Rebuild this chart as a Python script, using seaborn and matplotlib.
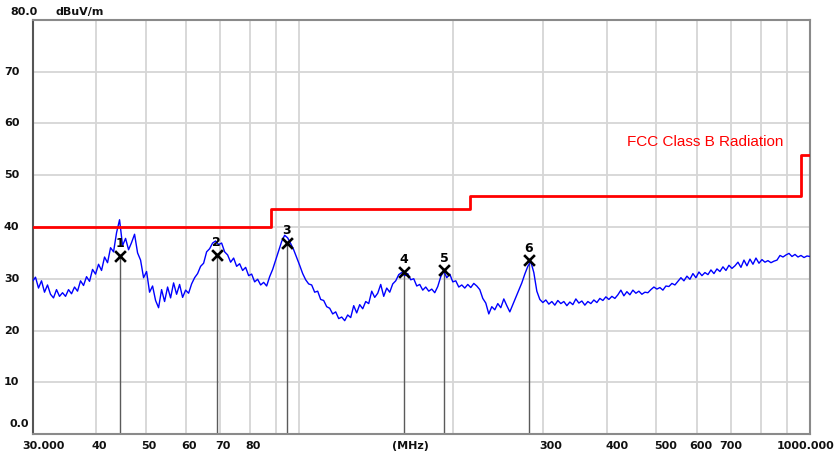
import numpy as np
import pandas as pd
import matplotlib
matplotlib.use("Agg")
import matplotlib.pyplot as plt
import seaborn as sns

# ---------------- data ----------------
sweep_start_mhz = 30.0
sweep_stop_mhz = 1000.0
# measured level (dBuV/m), equally spaced points on the log-frequency sweep
trace_levels = [
    29.5, 30.3, 28.2, 29.6, 27.4, 28.8, 27.0, 26.3, 27.9, 26.6, 27.3,
    26.6, 27.9, 27.1, 28.4, 27.6, 29.6, 28.7, 30.4, 29.5, 31.8,
    30.9, 32.8, 31.6, 34.2, 33.1, 36.0, 35.2, 38.9, 41.4, 36.4,
    37.8, 35.6, 37.0, 38.6, 35.0, 33.6, 30.2, 31.4, 27.4, 28.6,
    25.8, 24.4, 27.9, 25.6, 28.4, 26.3, 29.2, 27.0, 28.9, 26.4,
    27.8, 27.2, 29.0, 30.2, 31.0, 32.4, 33.0, 35.2, 35.8, 36.9,
    37.3, 36.6, 36.9, 35.2, 34.6, 33.2, 34.0, 32.4, 32.9, 31.6,
    32.2, 30.6, 30.9, 29.4, 29.9, 28.8, 29.3, 28.6, 30.4, 31.8,
    33.6, 35.4, 37.2, 38.4, 37.9, 36.8, 35.6, 34.1, 32.6, 31.0,
    29.8, 29.0, 28.8, 27.4, 27.6, 26.0, 25.8, 24.6, 24.3, 23.2,
    23.6, 22.3, 22.6, 21.9, 23.0, 22.5, 24.8, 23.4, 25.0, 24.2,
    25.6, 25.2, 27.6, 26.4, 27.2, 28.9, 26.6, 28.2, 27.4, 29.0,
    29.6, 30.8, 31.2, 30.6, 31.0, 29.8, 30.0, 28.6, 28.9, 27.8,
    28.4, 27.6, 28.0, 27.3, 28.5, 30.4, 31.5, 30.2, 30.9, 29.4,
    29.6, 28.4, 28.8, 28.2, 28.9, 28.3, 29.1, 28.6, 27.9, 26.2,
    25.3, 23.2, 24.6, 24.0, 25.2, 24.4, 26.1, 24.8, 23.6, 25.0,
    26.4, 27.8, 29.2, 30.9, 32.4, 33.3, 31.2, 27.6, 26.0, 25.4,
    25.9, 25.1, 25.6, 24.9, 25.8, 25.2, 25.6, 24.8, 25.5, 25.0,
    26.1, 25.3, 25.7, 24.9, 25.6, 25.2, 25.9, 25.4, 26.2, 25.8,
    26.5, 26.0, 26.6, 26.2, 26.9, 27.8, 26.7, 27.5, 26.9, 27.8,
    27.2, 27.6, 27.0, 27.4, 27.3, 27.9, 28.4, 28.0, 28.3, 27.8,
    28.6, 28.5, 29.1, 28.8, 29.5, 30.2, 29.6, 30.5, 29.9, 31.0,
    30.2, 31.3, 30.6, 31.2, 30.8, 31.7, 31.0, 31.9, 31.4, 32.3,
    31.6, 32.6, 32.0, 32.5, 33.2, 32.2, 33.6, 32.5, 33.8, 32.8,
    34.0, 33.0, 33.7, 33.2, 33.5, 33.1, 33.4, 33.6, 34.5, 34.2,
    34.6, 34.9, 34.3, 34.7, 34.2, 34.5, 34.1, 34.4, 34.3,
]

limit_edges_mhz = [30, 88, 216, 960, 1000]
limit_levels = [40.0, 43.5, 46.0, 54.0, 54.0]
limit_name = "FCC Class B Radiation"

peak_ids = ["1", "2", "3", "4", "5", "6"]
peak_freqs_mhz = [44.5, 68.9, 94.4, 160.3, 192.0, 281.3]
peak_levels = [34.4, 34.6, 37.0, 31.4, 31.6, 33.6]

x_tick_values = [30, 40, 50, 60, 70, 80, 300, 400, 500, 600, 700, 1000]
x_tick_labels = ["30.000", "40", "50", "60", "70", "80",
                 "300", "400", "500", "600", "700", "1000.000"]
x_grid_values = [40, 50, 60, 70, 80, 90, 100, 200, 300, 400, 500, 600, 700, 800, 900]
y_tick_values = [0, 10, 20, 30, 40, 50, 60, 70]
y_tick_labels = ["0.0", "10", "20", "30", "40", "50", "60", "70"]
y_top = 80
y_top_label = "80.0"
unit_label = "dBuV/m"
freq_unit_label = "(MHz)"

# ---------------- plot ----------------
sns.set_theme(style="white")
plt.rcParams["font.family"] = ["DejaVu Sans"]

fig = plt.figure(figsize=(8.39, 4.59), dpi=100)
W, H = 839, 459
ax = fig.add_axes([32.5 / W, 25 / H, 777.5 / W, 414 / H])
ax.set_xscale("log")
ax.set_xlim(sweep_start_mhz, sweep_stop_mhz)
ax.set_ylim(0, y_top)

# grid
for g in x_grid_values:
    ax.axvline(g, color="#d6d6d6", lw=1.3, zorder=0)
for g in y_tick_values[1:]:
    ax.axhline(g, color="#d6d6d6", lw=1.3, zorder=0)

freqs = np.geomspace(sweep_start_mhz, sweep_stop_mhz, len(trace_levels))
df = pd.DataFrame({"freq": freqs, "level": trace_levels})
sns.lineplot(data=df, x="freq", y="level", ax=ax, color="#0000ff", lw=1.0,
             estimator=None, sort=False, zorder=3)

lim = pd.DataFrame({"freq": limit_edges_mhz, "level": limit_levels})
sns.lineplot(data=lim, x="freq", y="level", ax=ax, color="#ff0000", lw=2.0,
             estimator=None, sort=False, drawstyle="steps-post", zorder=4)

# peak markers
ax.vlines(peak_freqs_mhz, 0, peak_levels, color="#5a5a5a", lw=1.0, zorder=2)
pk = pd.DataFrame({"freq": peak_freqs_mhz, "level": peak_levels})
sns.scatterplot(data=pk, x="freq", y="level", ax=ax, marker="x", s=60,
                color="black", linewidth=1.9, zorder=6)
for pid, f, l in zip(peak_ids, peak_freqs_mhz, peak_levels):
    ax.annotate(pid, xy=(f, l), xytext=(0, 12), textcoords="offset pixels",
                ha="center", va="center", fontsize=9, fontweight="bold",
                color="black", zorder=7)

ax.text(0.865, 0.705, limit_name, transform=ax.transAxes, color="#ff0000",
        fontsize=11, family="Liberation Sans", ha="center", va="center")

# axes cosmetics
ax.set_xticks([])
ax.set_yticks([])
ax.minorticks_off()
ax.tick_params(which="both", length=0)
ax.set_xlabel("")
ax.set_ylabel("")
for side, sp in ax.spines.items():
    sp.set_visible(True)
    sp.set_color("#8a8a8a")
    sp.set_linewidth(1.5)
ax.spines["left"].set_color("#555555")

tick_font = dict(fontsize=8, fontweight="bold", color="#111111")
xtr = ax.get_xaxis_transform()
x_offsets = {30: -10, 1000: -4, 300: 8, 400: 10, 500: 9, 600: 4, 700: 0}
for v, lab in zip(x_tick_values, x_tick_labels):
    dx = x_offsets.get(v, 3)
    ha = "left" if v == 30 else "center"
    ax.annotate(lab, xy=(v, 0), xycoords=xtr, xytext=(dx, -12),
                textcoords="offset pixels", ha=ha, va="center", **tick_font)
ax.annotate(freq_unit_label, xy=(165, 0), xycoords=xtr, xytext=(0, -12),
            textcoords="offset pixels", ha="center", va="center", **tick_font)

ytr = ax.get_yaxis_transform()
for v, lab in zip(y_tick_values, y_tick_labels):
    if v == 0:
        ax.annotate(lab, xy=(0, v), xycoords=ytr, xytext=(-22.5, 10),
                    textcoords="offset pixels", ha="left", va="center", **tick_font)
    else:
        ax.annotate(lab, xy=(0, v), xycoords=ytr, xytext=(-28.5, 0),
                    textcoords="offset pixels", ha="left", va="center", **tick_font)
ax.annotate(y_top_label, xy=(0, y_top), xycoords=ytr, xytext=(-22, 7.5),
            textcoords="offset pixels", ha="left", va="center", **tick_font)
ax.annotate(unit_label, xy=(0, y_top), xycoords=ytr, xytext=(22.5, 7.5),
            textcoords="offset pixels", ha="left", va="center", **tick_font)

fig.savefig("out.png", dpi=100)
